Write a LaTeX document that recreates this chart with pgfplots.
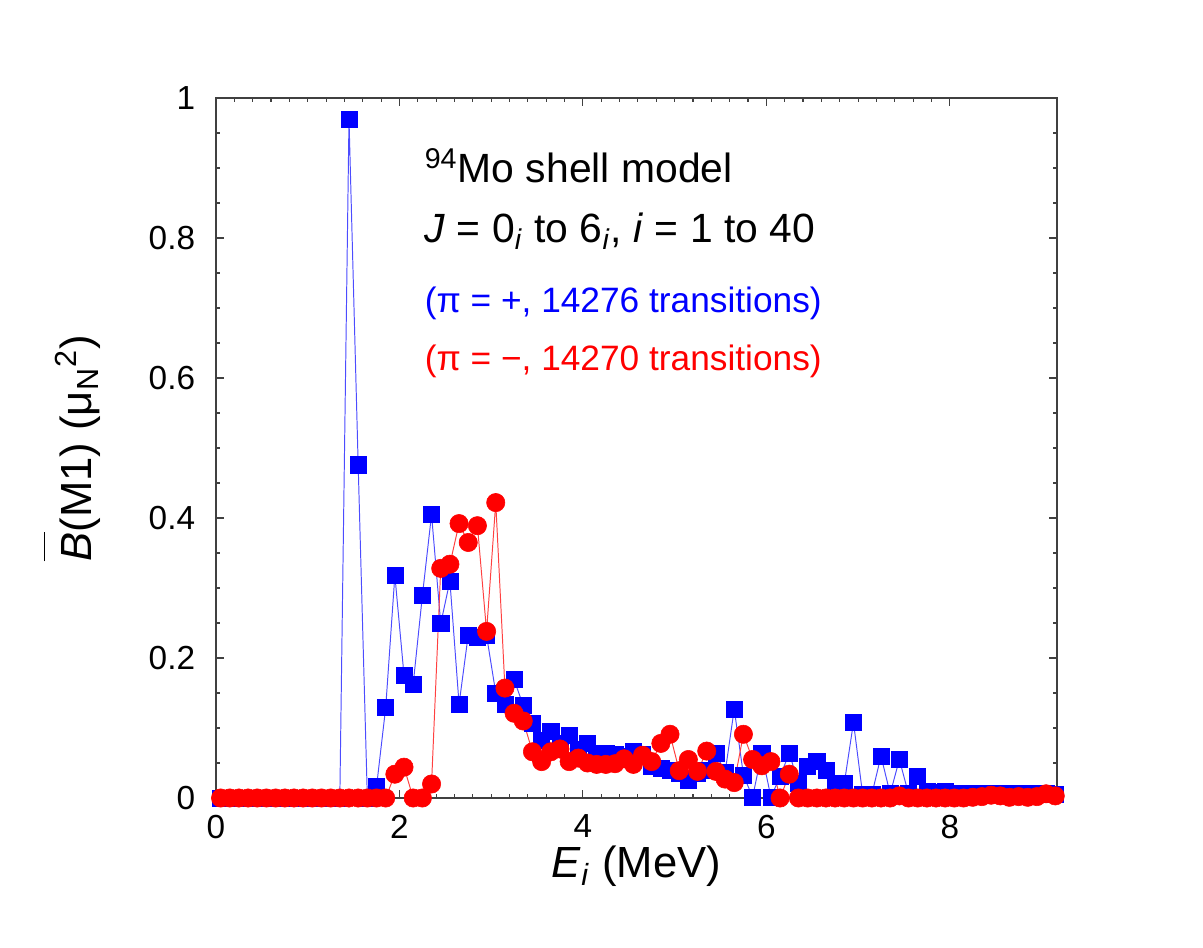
\documentclass[border=0pt]{standalone}
\usepackage{fontspec}
\setmainfont{Liberation Sans}
\usepackage{pgfplots}
\usepackage{pgfplotstable}
\pgfplotsset{compat=1.18}

% Average B(M1) strength per 0.1 MeV bin of initial excitation energy
\pgfplotstableread{
E     B
0.05  0
0.15  0
0.25  0
0.35  0
0.45  0
0.55  0
0.65  0
0.75  0
0.85  0
0.95  0
1.05  0
1.15  0
1.25  0
1.35  0
1.45  0.970
1.55  0.476
1.65  0
1.75  0.016
1.85  0.129
1.95  0.318
2.05  0.175
2.15  0.163
2.25  0.289
2.35  0.405
2.45  0.249
2.55  0.310
2.65  0.134
2.75  0.233
2.85  0.229
2.95  0.232
3.05  0.150
3.15  0.134
3.25  0.169
3.35  0.132
3.45  0.107
3.55  0.083
3.65  0.095
3.75  0.078
3.85  0.090
3.95  0.069
4.05  0.078
4.15  0.064
4.25  0.064
4.35  0.062
4.45  0.060
4.55  0.066
4.65  0.062
4.75  0.045
4.85  0.042
4.95  0.040
5.05  0.036
5.15  0.026
5.25  0.036
5.35  0.040
5.45  0.064
5.55  0.036
5.65  0.127
5.75  0.033
5.85  0.001
5.95  0.064
6.05  0.001
6.15  0.031
6.25  0.064
6.35  0.021
6.45  0.045
6.55  0.052
6.65  0.040
6.75  0.021
6.85  0.021
6.95  0.108
7.05  0.005
7.15  0.005
7.25  0.060
7.35  0.006
7.45  0.055
7.55  0.006
7.65  0.031
7.75  0.010
7.85  0.008
7.95  0.010
8.05  0.007
8.15  0.007
8.25  0.007
8.35  0.006
8.45  0.007
8.55  0.006
8.65  0.006
8.75  0.006
8.85  0.006
8.95  0.006
9.05  0.007
9.15  0.005
}\positive

\pgfplotstableread{
E     B
0.05  0
0.15  0
0.25  0
0.35  0
0.45  0
0.55  0
0.65  0
0.75  0
0.85  0
0.95  0
1.05  0
1.15  0
1.25  0
1.35  0
1.45  0
1.55  0
1.65  0
1.75  0
1.85  0
1.95  0.034
2.05  0.044
2.15  0
2.25  0
2.35  0.020
2.45  0.328
2.55  0.334
2.65  0.392
2.75  0.365
2.85  0.389
2.95  0.238
3.05  0.422
3.15  0.157
3.25  0.121
3.35  0.110
3.45  0.066
3.55  0.052
3.65  0.066
3.75  0.070
3.85  0.052
3.95  0.057
4.05  0.050
4.15  0.048
4.25  0.048
4.35  0.049
4.45  0.056
4.55  0.048
4.65  0.061
4.75  0.052
4.85  0.078
4.95  0.091
5.05  0.039
5.15  0.055
5.25  0.038
5.35  0.067
5.45  0.038
5.55  0.027
5.65  0.022
5.75  0.091
5.85  0.055
5.95  0.046
6.05  0.052
6.15  0
6.25  0.034
6.35  0
6.45  0
6.55  0
6.65  0
6.75  0
6.85  0
6.95  0
7.05  0
7.15  0
7.25  0
7.35  0
7.45  0.003
7.55  0
7.65  0
7.75  0
7.85  0
7.95  0
8.05  0
8.15  0
8.25  0.001
8.35  0.002
8.45  0.004
8.55  0.003
8.65  0.001
8.75  0.002
8.85  0.001
8.95  0.002
9.05  0.006
9.15  0.003
}\negative

\begin{document}
\begin{tikzpicture}[x=1pt,y=1pt]
\path[use as bounding box] (0,0) rectangle (433.08,341.28);
\begin{axis}[
  at={(77.76pt,54pt)}, anchor=south west,
  scale only axis, width=302.8pt, height=252pt,
  xmin=0, xmax=9.17, ymin=0, ymax=1,
  xtick={0,2,4,6,8}, minor x tick num=9,
  ytick={0,0.2,0.4,0.6,0.8,1}, minor y tick num=3,
  tick align=inside,
  major tick length=3pt, minor tick length=1.6pt,
  axis line style={black!75, line width=0.5pt},
  every tick/.style={black!75, line width=0.4pt},
  /pgf/number format/assume math mode=true,
  tick label style={font=\fontsize{12}{14}\selectfont},
  xticklabel style={yshift=-2.6pt},
  yticklabel style={xshift=-4pt},
  xlabel={\textit{E}\textsubscript{\textit{i}} (MeV)},
  ylabel={$\overline{\mbox{\rule{0pt}{15.5pt}\textit{B}}}$(M1) (μ\textsubscript{N}\textsuperscript{2})},
  label style={font=\fontsize{15.7}{18}\selectfont},
  xlabel style={at={(axis description cs:0.5,0)}, anchor=base, yshift=-28.5pt},
  ylabel style={at={(axis description cs:0,0.5)}, anchor=base, yshift=45pt},
  clip=false,
]
\addplot[blue!70, line width=0.35pt, mark=square*, mark size=2.9pt,
  mark options={fill=blue, draw=blue, line width=0.2pt}]
  table[x=E, y=B] {\positive};
\addplot[red!75, line width=0.35pt, mark=*, mark size=3.3pt,
  mark options={fill=red, draw=red, line width=0.2pt}]
  table[x=E, y=B] {\negative};

\node[anchor=base west, inner sep=0pt, font=\fontsize{14.7}{17}\selectfont]
  at (axis cs:2.27,0.879) {\textsuperscript{94}Mo shell model};
\node[anchor=base west, inner sep=0pt, font=\fontsize{14.7}{17}\selectfont]
  at (axis cs:2.27,0.793) {\textit{J} = 0\textsubscript{\textit{i}} to 6\textsubscript{\textit{i}}, \textit{i} = 1 to 40};
\node[anchor=base west, inner sep=0pt, text=blue, font=\fontsize{12.7}{15}\selectfont]
  at (axis cs:2.27,0.693) {(π = +, 14276 transitions)};
\node[anchor=base west, inner sep=0pt, text=red, font=\fontsize{12.7}{15}\selectfont]
  at (axis cs:2.27,0.611) {(π = −, 14270 transitions)};
\end{axis}
\end{tikzpicture}
\end{document}
